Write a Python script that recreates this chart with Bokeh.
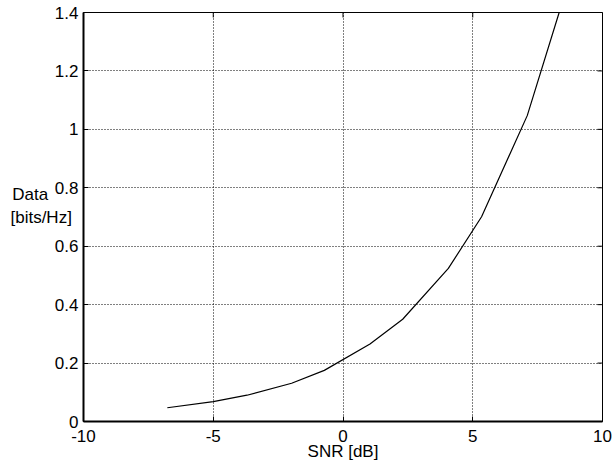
import math
from bokeh.plotting import figure
from bokeh.models import Range1d, FixedTicker
from bokeh.embed import file_html
from bokeh.resources import INLINE

# Data
snr_db = [-6.77, -5.0, -3.70, -1.98, -0.72, 1.04, 2.30, 4.06, 5.34, 7.10, 8.33]
data_bits = [0.047, 0.068, 0.090, 0.131, 0.175, 0.265, 0.350, 0.524, 0.701, 1.047, 1.40]

x_ticks = [-10, -5, 0, 5, 10]
x_tick_labels = ["-10", "-5", "0", "5", "10"]
y_ticks = [0, 0.2, 0.4, 0.6, 0.8, 1.0, 1.2, 1.4]
y_tick_labels = ["0", "0.2", "0.4", "0.6", "0.8", "1", "1.2", "1.4"]
x_min, x_max = -10, 10
y_min, y_max = 0, 1.4

FONT = "Liberation Sans"
FS = "17px"
NB = "\u00a0"

p = figure(width=613, height=476, output_backend="svg", toolbar_location=None,
           x_range=Range1d(x_min, x_max), y_range=Range1d(y_min, y_max),
           min_border_left=83, min_border_right=11, min_border_top=12, min_border_bottom=55)

p.background_fill_color = "white"
p.border_fill_color = "white"
p.outline_line_color = "black"
p.outline_line_width = 1

for g in (p.xgrid[0], p.ygrid[0]):
    g.grid_line_color = "black"
    g.grid_line_dash = "1 2"
    g.grid_line_width = 1
p.xgrid[0].ticker = FixedTicker(ticks=x_ticks[1:-1])
p.ygrid[0].ticker = FixedTicker(ticks=y_ticks[1:-1])

p.line(snr_db, data_bits, line_color="black", line_width=1.2)

# inward tick marks on top and right edges (clipped to the frame)
p.scatter(x=x_ticks, y=[y_max] * len(x_ticks), marker="dash", angle=math.pi / 2,
          size=10, line_color="black", line_width=1)
p.scatter(x=[x_max] * len(y_ticks), y=y_ticks, marker="dash", angle=0,
          size=10, line_color="black", line_width=1)

for ax, ticks, labels in ((p.xaxis[0], x_ticks, x_tick_labels), (p.yaxis[0], y_ticks, y_tick_labels)):
    ax.ticker = FixedTicker(ticks=ticks)
    ax.major_label_overrides = {t: l for t, l in zip(ticks, labels)}
    ax.minor_tick_line_color = None
    ax.major_tick_in = 5
    ax.major_tick_out = 0
    ax.major_tick_line_color = "black"
    ax.axis_line_color = "black"
    ax.axis_line_width = 2
    ax.major_label_text_font = FONT
    ax.major_label_text_font_size = FS
    ax.major_label_text_color = "black"
    ax.axis_label_text_font = FONT
    ax.axis_label_text_font_size = FS
    ax.axis_label_text_font_style = "normal"
    ax.axis_label_text_color = "black"

p.xaxis.major_label_standoff = 8
p.yaxis.major_label_standoff = 5
p.xaxis.axis_label = "SNR [dB]"
p.xaxis.axis_label_standoff = -3

p.yaxis.axis_label = "Data" + NB * 5 + "\n[bits/Hz]\n"
p.yaxis.axis_label_orientation = "horizontal"
p.yaxis.axis_label_standoff = -20

open("out.html", "w").write(file_html(p, INLINE))
